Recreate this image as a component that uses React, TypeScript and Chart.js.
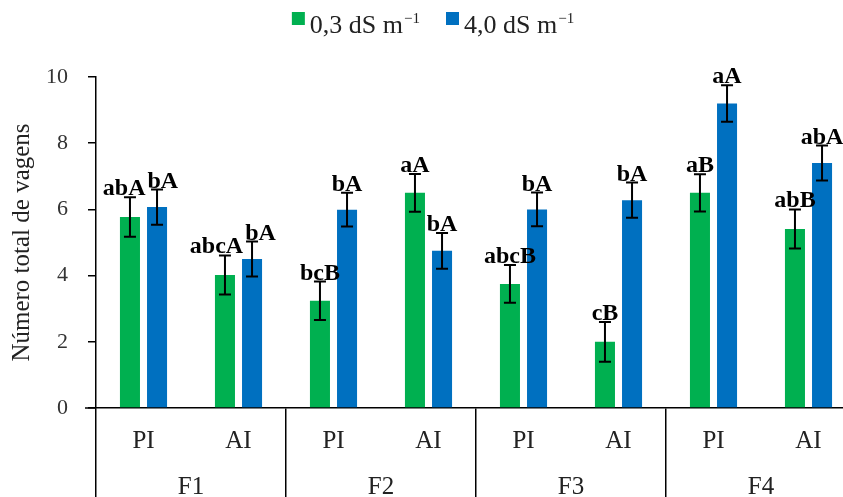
import React, { useEffect, useRef } from 'react';
import { Chart, registerables } from 'chart.js';

Chart.register(...registerables);

const subLabels = ['PI', 'AI', 'PI', 'AI', 'PI', 'AI', 'PI', 'AI'];
const groupLabels = ['F1', 'F2', 'F3', 'F4'];
const seriesNames = ['0,3 dS m', '4,0 dS m'];
const seriesSup = ['−1', '−1'];
const greenValues = [5.77, 4.02, 3.24, 6.5, 3.75, 2.0, 6.5, 5.41];
const blueValues = [6.07, 4.5, 5.99, 4.75, 6.0, 6.28, 9.2, 7.4];
const greenErrors = [0.6, 0.59, 0.58, 0.57, 0.57, 0.6, 0.56, 0.59];
const blueErrors = [0.53, 0.53, 0.51, 0.54, 0.51, 0.53, 0.55, 0.53];
const greenLetters = ['abA', 'abcA', 'bcB', 'aA', 'abcB', 'cB', 'aB', 'abB'];
const blueLetters = ['bA', 'bA', 'bA', 'bA', 'bA', 'bA', 'aA', 'abA'];
const yTitle = 'Número total de vagens';

const FONT = "'Liberation Serif', 'Times New Roman', serif";
const GREEN = '#00B050';
const BLUE = '#0070C0';

const errorsBySeries = [greenErrors, blueErrors];

const decorPlugin = {
  id: 'decor',
  afterDatasetsDraw(chart: any) {
    const ctx = chart.ctx;
    const y = chart.scales.y;
    ctx.save();
    ctx.strokeStyle = '#000';
    ctx.lineWidth = 2;
    const tops: number[][] = [[], []];
    const xs: number[][] = [[], []];
    chart.data.datasets.forEach((ds: any, di: number) => {
      const meta = chart.getDatasetMeta(di);
      meta.data.forEach((el: any, i: number) => {
        const v = ds.data[i];
        const e = errorsBySeries[di][i];
        const yt = y.getPixelForValue(v + e);
        const yb = y.getPixelForValue(v - e);
        const cap = 6;
        ctx.beginPath();
        ctx.moveTo(el.x, yt);
        ctx.lineTo(el.x, yb);
        ctx.moveTo(el.x - cap, yt);
        ctx.lineTo(el.x + cap, yt);
        ctx.moveTo(el.x - cap, yb);
        ctx.lineTo(el.x + cap, yb);
        ctx.stroke();
        tops[di][i] = yt;
        xs[di][i] = el.x;
      });
    });
    ctx.font = `bold 24px ${FONT}`;
    ctx.fillStyle = '#000';
    ctx.textAlign = 'center';
    ctx.textBaseline = 'alphabetic';
    const n = greenLetters.length;
    for (let i = 0; i < n; i++) {
      const wg = ctx.measureText(greenLetters[i]).width;
      const wb = ctx.measureText(blueLetters[i]).width;
      let xg = xs[0][i];
      let xb = xs[1][i];
      const bg = tops[0][i] - 2;
      const bb = tops[1][i] - 2;
      const overlapX = xg + wg / 2 + 2 - (xb - wb / 2);
      if (overlapX > 0 && Math.abs(bg - bb) < 18) {
        xg -= overlapX / 2;
        xb += overlapX / 2;
      }
      ctx.fillText(greenLetters[i], xg, bg);
      ctx.fillText(blueLetters[i], xb, bb);
    }
    ctx.restore();
  },
  afterDraw(chart: any) {
    const ctx = chart.ctx;
    const x = chart.scales.x;
    const area = chart.chartArea;
    ctx.save();
    ctx.strokeStyle = '#000';
    ctx.lineWidth = 1.5;
    ctx.beginPath();
    ctx.moveTo(area.left - 11, area.bottom);
    ctx.lineTo(area.left, area.bottom);
    ctx.stroke();
    ctx.fillStyle = '#222';
    ctx.font = `25px ${FONT}`;
    ctx.textAlign = 'center';
    ctx.textBaseline = 'alphabetic';
    subLabels.forEach((l, i) => {
      ctx.fillText(l, x.getPixelForValue(i), area.bottom + 40);
    });
    groupLabels.forEach((g, gi) => {
      const cx = (x.getPixelForValue(gi * 2) + x.getPixelForValue(gi * 2 + 1)) / 2;
      ctx.fillText(g, cx, area.bottom + 86);
    });
    const mainFont = `26px ${FONT}`;
    const supFont = `15px ${FONT}`;
    const box = 13;
    const gapBox = 5;
    const gapItem = 26;
    const widths = seriesNames.map((nm, i) => {
      ctx.font = mainFont;
      const w1 = ctx.measureText(nm).width;
      ctx.font = supFont;
      const w2 = ctx.measureText(seriesSup[i]).width;
      return box + gapBox + w1 + 1 + w2;
    });
    const total = widths.reduce((a, b) => a + b, 0) + gapItem * (widths.length - 1);
    let lx = 433 - total / 2;
    const baseline = 33;
    chart.data.datasets.forEach((ds: any, i: number) => {
      ctx.fillStyle = ds.backgroundColor;
      ctx.fillRect(lx, 12, box, box);
      ctx.fillStyle = '#222';
      ctx.textAlign = 'left';
      ctx.font = mainFont;
      const tx = lx + box + gapBox;
      ctx.fillText(seriesNames[i], tx, baseline);
      const w1 = ctx.measureText(seriesNames[i]).width;
      ctx.font = supFont;
      ctx.fillText(seriesSup[i], tx + w1 + 1, baseline - 10);
      lx += widths[i] + gapItem;
    });
    ctx.restore();
  },
};

export default function App() {
  const ref = useRef<HTMLCanvasElement>(null);
  useEffect(() => {
    const chart = new Chart(ref.current as HTMLCanvasElement, {
      type: 'bar',
      data: {
        labels: subLabels,
        datasets: [
          {
            label: seriesNames[0],
            data: greenValues,
            backgroundColor: GREEN,
            categoryPercentage: 0.57,
            barPercentage: 0.74,
          },
          {
            label: seriesNames[1],
            data: blueValues,
            backgroundColor: BLUE,
            categoryPercentage: 0.57,
            barPercentage: 0.74,
          },
        ],
      },
      options: {
        responsive: false,
        animation: false,
        devicePixelRatio: 1,
        layout: { padding: { top: 77, left: 0, right: 4, bottom: 0 } },
        plugins: {
          legend: { display: false },
          tooltip: { enabled: false },
          title: { display: false },
        },
        scales: {
          x: {
            offset: true,
            afterFit: (s: any) => {
              s.height = 89;
            },
            ticks: { display: false },
            grid: {
              display: true,
              offset: true,
              drawOnChartArea: false,
              drawTicks: true,
              tickLength: 89,
              lineWidth: 1.5,
              color: (c: any) =>
                c.index !== undefined && c.index % 2 === 0 ? '#000' : 'rgba(0,0,0,0)',
            },
            border: { display: true, color: '#000', width: 1.5 },
          },
          y: {
            min: 0,
            max: 10,
            afterFit: (s: any) => {
              s.width = 96;
            },
            ticks: {
              stepSize: 2,
              padding: 20,
              color: '#333',
              font: { family: FONT, size: 22 },
            },
            grid: {
              drawOnChartArea: false,
              drawTicks: true,
              tickLength: 8,
              color: '#000',
              lineWidth: 1.5,
            },
            border: { display: true, color: '#000', width: 1.5 },
            title: {
              display: true,
              text: yTitle,
              color: '#222',
              font: { family: FONT, size: 25 },
              padding: { top: 7, bottom: 0 },
            },
          },
        },
      },
      plugins: [decorPlugin],
    });
    return () => chart.destroy();
  }, []);
  return (
    <div
      style={{
        position: 'absolute',
        left: 0,
        top: 0,
        width: 843,
        height: 497,
        overflow: 'hidden',
        background: '#fff',
      }}
    >
      <canvas ref={ref} width={860} height={497} style={{ display: 'block', width: 860, height: 497 }} />
    </div>
  );
}
